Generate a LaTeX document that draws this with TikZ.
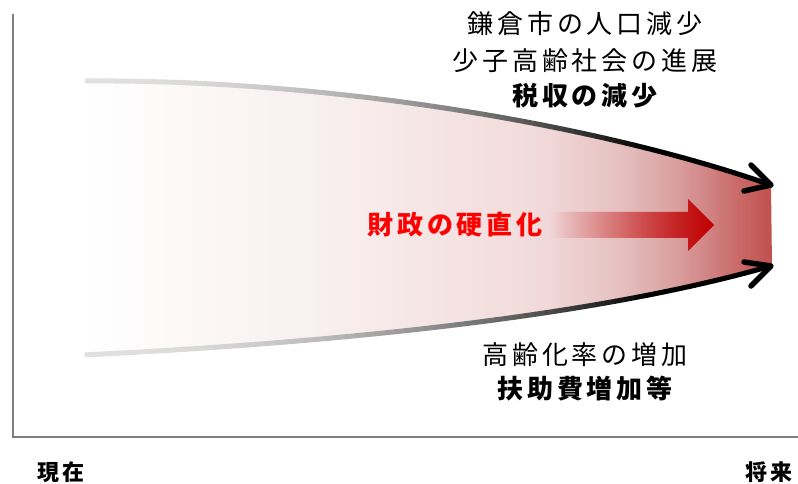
\documentclass[tikz,border=0pt]{standalone}
\usepackage{fontspec}
\usetikzlibrary{fadings}
\newfontfamily\jp[LetterSpace=15]{Noto Sans CJK JP}
\newfontfamily\jpax[LetterSpace=12]{Noto Sans CJK JP}
\definecolor{axisgray}{HTML}{808080}
\definecolor{fa}{HTML}{F8EDED}
\definecolor{fb}{HTML}{F2DADA}
\definecolor{fc}{HTML}{E6C0C0}
\definecolor{fd}{HTML}{D99C9C}
\definecolor{fe}{HTML}{CD7878}
\definecolor{ff}{HTML}{C0504D}
\definecolor{arrowred}{HTML}{C00000}
\definecolor{textred}{HTML}{FF0000}
\tikzset{
  lbl/.style={inner sep=0pt, font=\jp\fontsize{26}{26}\selectfont},
  lblb/.style={lbl, font=\jp\bfseries\fontsize{26}{26}\selectfont},
  axislbl/.style={inner sep=0pt, font=\jpax\bfseries\fontsize{22}{22}\selectfont},
  headline/.style={line width=5.5pt, line cap=round, line join=round, draw=black},
}
\begin{document}
\begin{tikzpicture}[x=1pt,y=-1pt]
\useasboundingbox (0,0) rectangle (798,483);
\def\uppercurve{(85,81) .. controls (330,79) and (600,125) .. (771,185)}
\def\lowercurve{(83,355) .. controls (350,342) and (600,315) .. (771,266)}
% band fill
\begin{scope}
  \clip (85,81) .. controls (330,79) and (600,125) .. (771,185) -- (772,266) .. controls (600,315) and (350,342) .. (83,355) -- cycle;
  \shade[left color=white, right color=fa] (83,70) rectangle (350.5,360);
  \shade[left color=fa, right color=fb] (350,70) rectangle (540.5,360);
  \shade[left color=fb, right color=fc] (540,70) rectangle (620.5,360);
  \shade[left color=fc, right color=fd] (620,70) rectangle (680.5,360);
  \shade[left color=fd, right color=fe] (680,70) rectangle (720.5,360);
  \shade[left color=fe, right color=ff] (720,70) rectangle (772,360);
\end{scope}
% gradient strokes
\foreach \i in {0,...,68} {
  \pgfmathsetmacro\xa{85+10*\i}
  \pgfmathsetmacro\p{min(100,12+88*((\xa-85)/560)^2)}
  \begin{scope}
    \clip (\xa-0.4,0) rectangle (\xa+10.4,483);
    \draw[line width=5pt, draw=black!\p] \uppercurve;
    \draw[line width=5pt, draw=black!\p] \lowercurve;
  \end{scope}
}
% arrow heads
\draw[headline] (751,165) -- (771,185) -- (744,191);
\draw[headline] (744,262) -- (771,266) -- (751,286);
% red arrow
\fill[arrowred, path fading=west] (550,212) -- (688,212) -- (688,199) -- (714,225) -- (688,251) -- (688,238) -- (550,238) -- cycle;
% axes
\coordinate (ytop) at (13,14);
\coordinate (origin) at (13,437);
\coordinate (xend) at (798,437);
\draw[axisgray, line width=1.5pt] (ytop) -- (origin) -- (xend);
% texts
\node[lbl] (t1) at (585,24) {鎌倉市の人口減少};
\node[lbl] (t2) at (585,61) {少子高齢社会の進展};
\node[lblb] (t3) at (585,96) {税収の減少};
\node[lblb, text=textred] (t4) at (455,225) {財政の硬直化};
\node[lbl] (t5) at (585,355) {高齢化率の増加};
\node[lblb] (t6) at (585,389) {扶助費増加等};
\node[axislbl] (now) at (61,472) {現在};
\node[axislbl] (future) at (769,472) {将来};
\end{tikzpicture}
\end{document}
